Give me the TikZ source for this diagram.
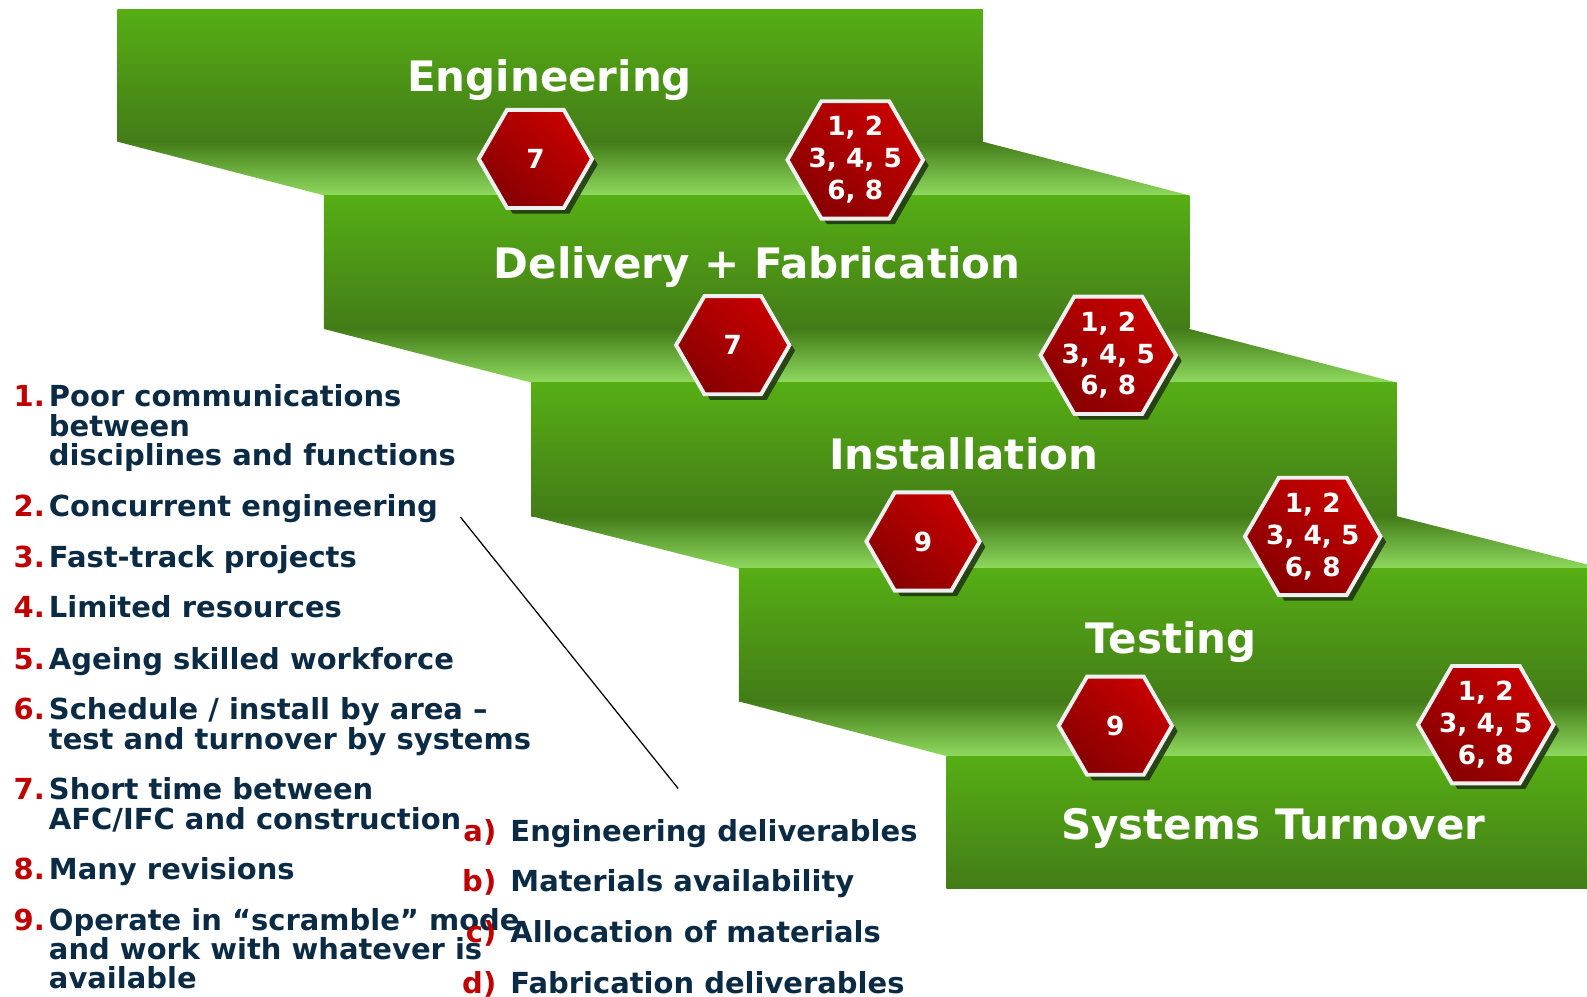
\documentclass[tikz,border=0pt]{standalone}
\usepackage{fontspec}
\setmainfont{DejaVu Sans}
\usetikzlibrary{shapes.geometric,shadows,positioning}

\definecolor{riserTop}{HTML}{56AE14}
\definecolor{riserDark}{HTML}{437C18}
\definecolor{treadLight}{HTML}{8FDA60}
\definecolor{hexBright}{HTML}{C80000}
\definecolor{hexDeep}{HTML}{870000}
\definecolor{hexShadow}{HTML}{1E3212}
\definecolor{numRed}{HTML}{C00000}
\definecolor{listBlue}{HTML}{0B2B45}

\newcommand{\causeno}[1]{\llap{\textcolor{numRed}{#1}\hspace{2.3pt}}}
\newcommand{\needtag}[1]{\llap{\textcolor{numRed}{#1}\hspace{8pt}}}

\begin{document}
\begin{tikzpicture}[x=0.02cm,y=-0.02cm,
        riser/.style={top color=riserTop,bottom color=riserDark},
        tread/.style={top color=riserDark,bottom color=treadLight},
        hexcell/.style={regular polygon,regular polygon sides=6,inner sep=-20pt,
            draw=white!94!black,line width=2.2pt,
            top color=hexBright,bottom color=hexDeep,shading angle=-40,
            drop shadow={shadow xshift=0.11cm,shadow yshift=-0.11cm,fill=hexShadow,opacity=.85},
            text=white,align=center,font=\fontsize{14.8}{17.9}\selectfont\bfseries}]
        \useasboundingbox (0,0) rectangle (1568,985);
        \clip (0,0) rectangle (1568,985);

        % the five steps
        \shade[riser] (116,9) rectangle (971,140);
        \shade[tread] (116,140) -- (971,140) -- (1175,193) -- (320,193) -- cycle;
        \shade[riser] (320,193) rectangle (1175,325);
        \shade[tread] (320,325) -- (1175,325) -- (1380,378) -- (525,378) -- cycle;
        \shade[riser] (525,378) rectangle (1380,510);
        \shade[tread] (525,510) -- (1380,510) -- (1585,562) -- (730,562) -- cycle;
        \shade[riser] (730,562) rectangle (1600,693);
        \shade[tread] (730,693) -- (1600,693) -- (1805,747) -- (935,747) -- cycle;
        \shade[riser] (935,747) rectangle (1600,878);

        \begin{scope}[every node/.style={text=white,font=\fontsize{23.6}{28}\selectfont\bfseries}]
            \node (engTitle) at (543,79) {Engineering};
            \node (delTitle) at (748,264) {Delivery + Fabrication};
            \node (insTitle) at (952,448) {Installation};
            \node (tstTitle) at (1157,634) {Testing};
            \node (sysTitle) at (1258,819) {Systems Turnover};
        \end{scope}

        \begin{scope}[every node/.style={hexcell,minimum size=2.24cm}]
            \node (engA) at (529,157) {7};
            \node (delA) at (724,341) {7};
            \node (insA) at (912,535) {9};
            \node (tstA) at (1102,717) {9};
        \end{scope}

        \begin{scope}[every node/.style={hexcell,minimum size=2.68cm}]
            \node (engB) at (845,158) {1, 2\\3, 4, 5\\6, 8};
            \node (delB) at (1095,351) {1, 2\\3, 4, 5\\6, 8};
            \node (insB) at (1297,530) {1, 2\\3, 4, 5\\6, 8};
            \node (tstB) at (1468,716) {1, 2\\3, 4, 5\\6, 8};
        \end{scope}

        % causes
        \begin{scope}[every node/.style={anchor=north west,inner sep=0pt,align=left,
                    text=listBlue,font=\fontsize{16.3}{16.5}\selectfont\bfseries}]
            \node (cause1) at (48,380) {\causeno{1.}Poor communications\\between\\disciplines and functions};
            \node (cause2) at (48,488) {\causeno{2.}Concurrent engineering};
            \node (cause3) at (48,539) {\causeno{3.}Fast-track projects};
            \node (cause4) at (48,588) {\causeno{4.}Limited resources};
            \node (cause5) at (48,639) {\causeno{5.}Ageing skilled workforce};
            \node (cause6) at (48,689) {\causeno{6.}Schedule / install by area –\\test and turnover by systems};
            \node (cause7) at (48,768) {\causeno{7.}Short time between\\AFC/IFC and construction};
            \node (cause8) at (48,847) {\causeno{8.}Many revisions};
            \node (cause9) at (48,897) {\causeno{9.}Operate in “scramble” mode\\and work with whatever is\\available};

            \node (need1) at (504,809) {\needtag{a)}Engineering deliverables};
            \node (need2) at (504,859) {\needtag{b)}Materials availability};
            \node (need3) at (504,909) {\needtag{c)}Allocation of materials};
            \node (need4) at (504,959) {\needtag{d)}Fabrication deliverables};
        \end{scope}

        \coordinate (lineTop) at (455,511);
        \coordinate (lineEnd) at (670,779);
        \draw[line width=0.7pt] (lineTop) -- (lineEnd);
    \end{tikzpicture}
\end{document}
